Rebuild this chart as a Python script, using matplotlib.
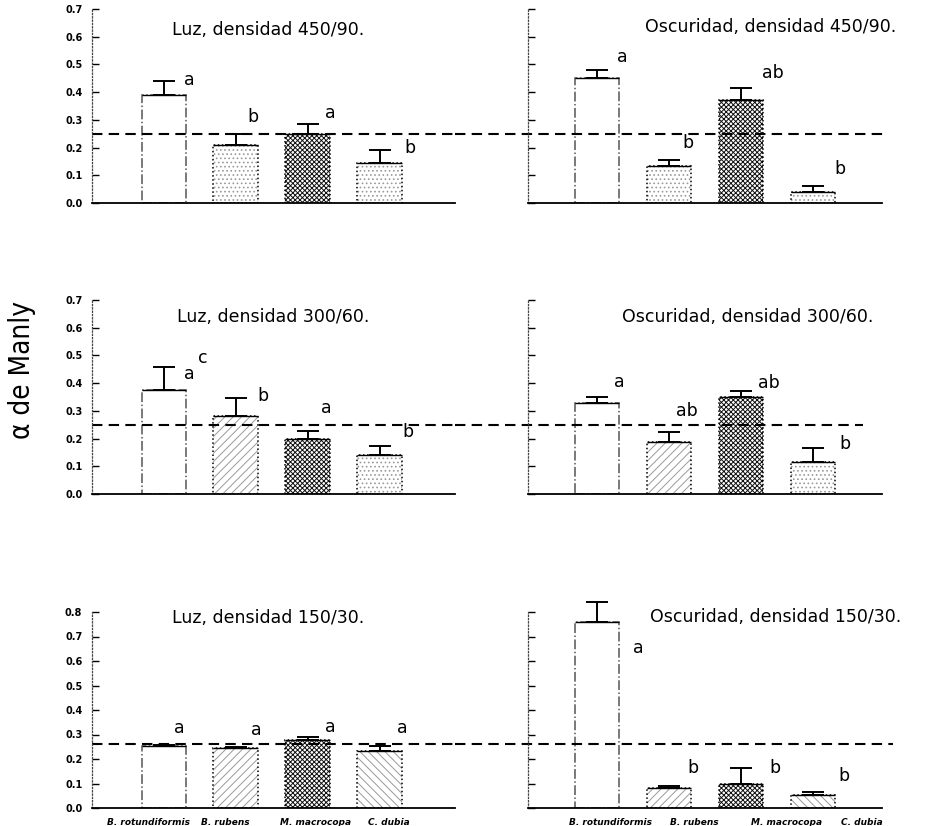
import matplotlib
matplotlib.use("Agg")
import matplotlib.pyplot as plt
import numpy as np

plt.rcParams['hatch.linewidth'] = 0.7

# data
species = ["B. rotundiformis", "B. rubens", "M. macrocopa", "C. dubia"]
titles = [
    "Luz, densidad 450/90.", "Oscuridad, densidad 450/90.",
    "Luz, densidad 300/60.", "Oscuridad, densidad 300/60.",
    "Luz, densidad 150/30.", "Oscuridad, densidad 150/30.",
]
luz_450 = [0.39, 0.21, 0.25, 0.145]
luz_450_err = [0.05, 0.04, 0.035, 0.045]
osc_450 = [0.45, 0.135, 0.37, 0.04]
osc_450_err = [0.03, 0.02, 0.045, 0.02]
luz_300 = [0.375, 0.28, 0.20, 0.14]
luz_300_err = [0.085, 0.065, 0.028, 0.033]
osc_300 = [0.327, 0.186, 0.35, 0.117]
osc_300_err = [0.023, 0.039, 0.02, 0.048]
luz_150 = [0.255, 0.245, 0.278, 0.233]
luz_150_err = [0.003, 0.005, 0.012, 0.02]
osc_150 = [0.76, 0.083, 0.10, 0.055]
osc_150_err = [0.08, 0.007, 0.065, 0.012]

letters = [
    ["a", "b", "a", "b"],
    ["a", "b", "ab", "b"],
    ["a", "b", "a", "b"],
    ["a", "ab", "ab", "b"],
    ["a", "a", "a", "a"],
    ["a", "b", "b", "b"],
]
neutral = [0.25, 0.25, 0.26]   # 1/k reference line per row
ymax = [0.7, 0.7, 0.8]

means = [luz_450, osc_450, luz_300, osc_300, luz_150, osc_150]
errs = [luz_450_err, osc_450_err, luz_300_err, osc_300_err, luz_150_err, osc_150_err]

# layout (pixels of a 936x826 canvas)
W, H = 936, 826
cols = [(92, 455), (528, 882)]
rows = [(9, 203), (300, 494), (612, 808)]
xlims = [(-1.0, 4.05), (-0.96, 3.96)]
title_pos = [(0.485, 0.89), (0.686, 0.906), (0.50, 0.91), (0.62, 0.91), (0.485, 0.97), (0.70, 0.974)]
letter_pos = [
    [(0.36, 0.444), (1.24, 0.31), (2.31, 0.325), (3.42, 0.20)],
    [(0.35, 0.525), (1.26, 0.215), (2.44, 0.47), (3.37, 0.124)],
    [(0.36, 0.433), (1.375, 0.354), (2.26, 0.31), (3.39, 0.224)],
    [(0.31, 0.404), (1.25, 0.30), (2.39, 0.40), (3.44, 0.18)],
    [(0.22, 0.327), (1.29, 0.318), (2.31, 0.33), (3.32, 0.327)],
    [(0.57, 0.655), (1.33, 0.164), (2.47, 0.164), (3.43, 0.131)],
]
line_span = [(0.0, 1.0, -0.206, 1.017), (0.0, 1.0, -0.206, 0.946), (0.0, 1.0, -0.206, 1.03)]
label_ticks = [[-0.21, 0.86, 2.11, 3.125], [0.19, 1.35, 2.63, 3.68]]

hatch_cols = ['white', '#9a9a9a', '#111111', '#9a9a9a']
row_hatches = [
    [None, '....', 'xxxxxxx', '....'],
    [None, '////', 'xxxxxxx', '....'],
    [None, '////', 'xxxxxxx', '\\\\\\\\'],
]

fig = plt.figure(figsize=(W / 100, H / 100), dpi=100)
x = np.arange(4)
width = 0.62

for p in range(6):
    r, c = divmod(p, 2)
    x0, x1 = cols[c]
    top, bot = rows[r]
    ax = fig.add_axes([x0 / W, 1 - bot / H, (x1 - x0) / W, (bot - top) / H])
    ax.set_xlim(*xlims[c])
    ax.set_ylim(0, ymax[r])

    for i in range(4):
        h = row_hatches[r][i]
        if h:
            ax.bar(x[i], means[p][i], width, color='white', edgecolor=hatch_cols[i],
                   hatch=h, linewidth=0)
        ls = '-.' if i == 0 else ':'
        ec = '#555555' if i == 0 else 'black'
        ax.bar(x[i], means[p][i], width, fill=False, edgecolor=ec, linestyle=ls,
               linewidth=1.1)
    ax.hlines(means[p], x - width / 2, x + width / 2, color='black', linewidth=1.0)
    eb = ax.errorbar(x, means[p], yerr=[np.zeros(4), errs[p]], fmt='none', ecolor='black',
                     elinewidth=1.4, capsize=8, capthick=1.4)
    for art in eb.lines[1] + eb.lines[2]:
        art.set_clip_on(False)

    span = line_span[r]
    a, b = (span[0], span[1]) if c == 0 else (span[2], span[3])
    ax.axhline(neutral[r], xmin=a, xmax=b, color='black', linestyle=(0, (5, 3)),
               linewidth=1.5, clip_on=False)

    for (lx, ly), t in zip(letter_pos[p], letters[p]):
        ax.text(lx, ly, t, ha='center', va='center', fontsize=12.5)
    if p == 2:
        ax.text(0.54, 0.49, "c", ha='center', va='center', fontsize=12.5)

    ax.text(title_pos[p][0], title_pos[p][1], titles[p], transform=ax.transAxes,
            ha='center', va='center', fontsize=12.5)

    for s in ['top', 'right']:
        ax.spines[s].set_visible(False)
    ax.spines['left'].set_linestyle(':')
    ax.spines['left'].set_color('#444444')
    ax.spines['left'].set_linewidth(0.9)
    ax.spines['bottom'].set_linewidth(1.3)

    ticks = np.arange(0, ymax[r] + 0.01, 0.1)
    ax.set_yticks(ticks)
    ax.tick_params(axis='y', direction='in', length=5, width=1.0, pad=7)
    if c == 0:
        ax.set_yticklabels([f"{v:.1f}" for v in ticks], fontsize=7, fontweight='bold')
    else:
        ax.set_yticklabels([])

    if r == 2:
        ax.set_xticks(label_ticks[c])
        ax.set_xticklabels(species, fontsize=6.5, fontweight='bold', fontstyle='italic')
        ax.tick_params(axis='x', length=0, pad=7)
    else:
        ax.set_xticks([])

fig.text(22 / W, 1 - 370 / H, "α de Manly", rotation=90, ha='center', va='center',
         fontsize=20, fontstretch='condensed',
         family=['Liberation Sans Narrow', 'DejaVu Sans'])

fig.savefig("out.png", dpi=100)
